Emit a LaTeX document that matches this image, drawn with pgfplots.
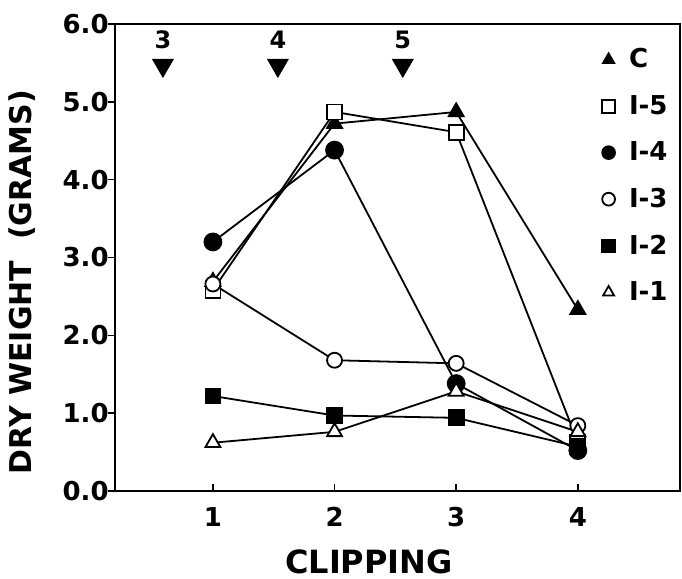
\documentclass[border=0pt]{standalone}
\usepackage{pgfplots}
\pgfplotsset{compat=1.18}
\usepackage{fontspec}
\setmainfont{DejaVu Sans}
\begin{document}
\begin{tikzpicture}
\useasboundingbox (-57.5pt,-44pt) rectangle (283.5pt,245.5pt);
\begin{axis}[
 at={(0,0)}, anchor=south west,
 scale only axis, width=282.5pt, height=233.5pt,
 xmin=0.195, xmax=4.84, ymin=0, ymax=6,
 clip=false,
 xtick={1,2,3,4}, ytick={0,1,2,3,4,5,6},
 yticklabels={0.0,1.0,2.0,3.0,4.0,5.0,6.0},
 xticklabels={1,2,3,4},
 /pgf/number format/assume math mode=true,
 tick pos=left, tick align=inside, major tick length=3.5pt,
 ytick style={xshift=-3.5pt},
 tick style={line width=0.8pt, black},
 axis line style={line width=0.8pt},
 ticklabel style={font=\fontsize{13}{15}\selectfont\bfseries},
 yticklabel style={inner sep=0pt, xshift=-3pt},
 xticklabel style={inner sep=0pt, yshift=-8pt},
 xlabel={CLIPPING},
 every axis x label/.style={at={(rel axis cs:0.4496,0)}, yshift=-35.5pt, anchor=center, font=\fontsize{16}{18}\selectfont\bfseries},
 ylabel={DRY WEIGHT\ \ (GRAMS)},
 every axis y label/.style={at={(rel axis cs:0,0.4475)}, xshift=-46.5pt, rotate=90, anchor=center, font=\fontsize{15}{17}\selectfont\bfseries},
 legend image code/.code={\draw[#1, mark size=3.2pt] plot coordinates {(0pt,0pt)};},
 legend style={at={(rel axis cs:0.851,0.961)}, anchor=north west, draw=none, fill=none,
   font=\fontsize{13}{15}\selectfont\bfseries, row sep=10.2pt, column sep=6pt,
   nodes={inner sep=1pt}},
 legend cell align=left,
 every axis plot/.append style={line width=0.9pt, black},
]
\addplot[mark=triangle*, mark size=4.3pt, mark options={fill=black, solid}] coordinates {(1,2.69) (2,4.72) (3,4.87) (4,2.33)};
\addplot[mark=square*, mark size=3.75pt, mark options={fill=white}] coordinates {(1,2.58) (2,4.87) (3,4.61) (4,0.63)};
\addplot[mark=*, mark size=4.25pt, mark options={fill=black}] coordinates {(1,3.20) (2,4.38) (3,1.38) (4,0.52)};
\addplot[mark=*, mark size=3.75pt, mark options={fill=white}] coordinates {(1,2.66) (2,1.68) (3,1.64) (4,0.84)};
\addplot[mark=square*, mark size=3.75pt, mark options={fill=black}] coordinates {(1,1.22) (2,0.97) (3,0.94) (4,0.57)};
\addplot[mark=triangle*, mark size=4.3pt, mark options={fill=white}] coordinates {(1,0.62) (2,0.76) (3,1.28) (4,0.76)};
\legend{C,I-5,I-4,I-3,I-2,I-1}
\addplot[forget plot, only marks, mark=triangle*, mark size=5.5pt, mark options={rotate=180, fill=black}] coordinates {(0.589,5.47) (1.534,5.47) (2.561,5.47)};
\node[font=\fontsize{12}{14}\selectfont\bfseries] at (axis cs:0.589,5.795) {3};
\node[font=\fontsize{12}{14}\selectfont\bfseries] at (axis cs:1.534,5.795) {4};
\node[font=\fontsize{12}{14}\selectfont\bfseries] at (axis cs:2.561,5.795) {5};
\end{axis}
\end{tikzpicture}
\end{document}
